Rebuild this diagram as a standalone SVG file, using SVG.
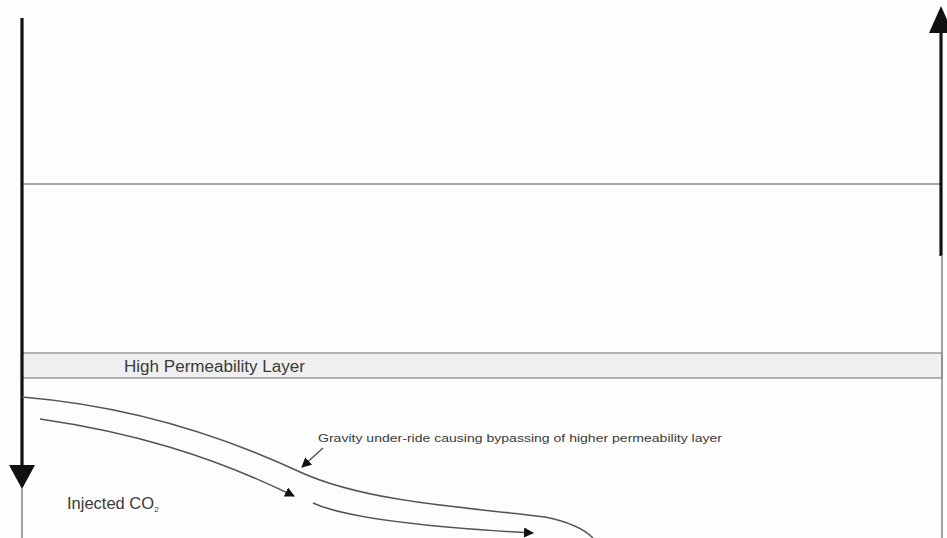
<svg xmlns="http://www.w3.org/2000/svg" width="947" height="538" viewBox="0 0 947 538">
  <style>
    .bg { fill: #fdfdfd; }
    .layer-line { stroke: #a8a8a8; stroke-width: 1.8; fill: none; }
    .band { fill: #efefef; stroke: #9a9a9a; stroke-width: 1.5; }
    .well { stroke: #111; stroke-width: 3.2; fill: none; }
    .well-thin { stroke: #8a8a8a; stroke-width: 1.6; fill: none; }
    .flow { stroke: #555; stroke-width: 1.5; fill: none; }
    .label { font-family: "Liberation Sans", Arial, sans-serif; fill: #3a3a3a; }
  </style>
  <defs>
    <marker id="flowHead" viewBox="0 0 10 10" refX="9" refY="5" markerWidth="10" markerHeight="10" markerUnits="userSpaceOnUse" orient="auto">
      <path d="M0,0 L10,5 L0,10 z" fill="#111"/>
    </marker>
  </defs>

  <rect class="bg" x="0" y="0" width="947" height="538"/>

  <!-- strata -->
  <g id="layers">
    <line class="layer-line" x1="22" y1="184" x2="942" y2="184"/>
    <rect id="high-perm-band" class="band" x="22" y="353" width="920" height="25"/>
    <text class="label" x="124" y="372" font-size="16" textLength="181" lengthAdjust="spacingAndGlyphs">High Permeability Layer</text>
  </g>

  <!-- injection well (left) -->
  <g id="injector">
    <line class="well" x1="22" y1="18" x2="22" y2="466"/>
    <polygon points="9,465 35,465 22,489" fill="#111"/>
    <line class="well-thin" x1="22" y1="488" x2="22" y2="538"/>
  </g>

  <!-- production well (right) -->
  <g id="producer">
    <polygon points="929,33 953,33 941,6" fill="#111"/>
    <line class="well" x1="941" y1="30" x2="941" y2="256"/>
    <line class="well-thin" x1="942" y1="255" x2="942" y2="538"/>
  </g>

  <!-- CO2 plume and flow paths -->
  <g id="connectors">
    <path class="flow" d="M22,397 C120,405 210,430 300,472 C370,504 480,508 545,517 C570,522 585,530 593,538"/>
    <path class="flow" d="M40,419 C130,432 210,455 294,496" marker-end="url(#flowHead)"/>
    <path class="flow" d="M313,503 C350,520 440,528 533,533" marker-end="url(#flowHead)"/>
    <path class="flow" stroke-width="1.2" d="M323,448 L302,467" marker-end="url(#flowHead)"/>
  </g>

  <g id="annotation">
    <text class="label" x="318" y="442" font-size="11.5" textLength="404" lengthAdjust="spacingAndGlyphs">Gravity under-ride causing bypassing of higher permeability layer</text>
  </g>

  <g id="co2-label">
    <text class="label" x="67" y="509" font-size="16.5">Injected CO<tspan font-size="8" dy="3">2</tspan></text>
  </g>
</svg>
